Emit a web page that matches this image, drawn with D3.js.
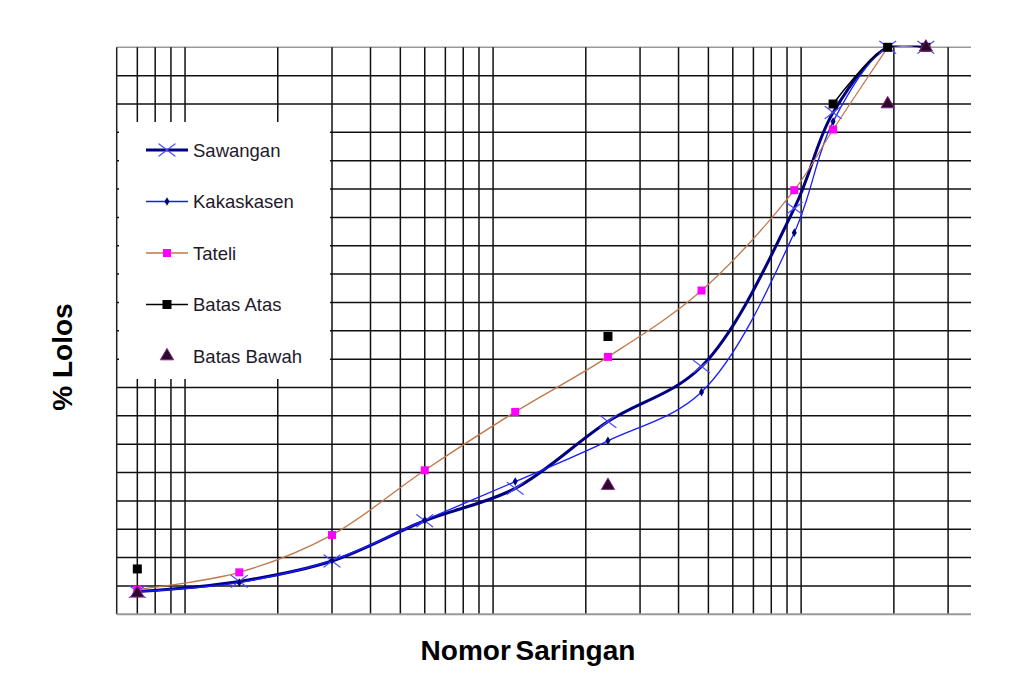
<!DOCTYPE html>
<html>
<head>
<meta charset="utf-8">
<script src="https://cdn.jsdelivr.net/npm/d3@7.9.0/dist/d3.min.js"></script>
<style>
  body { margin: 0; background: #fff; }
  svg { display: block; font-family: "Liberation Sans", Arial, sans-serif; }
</style>
</head>
<body>
<svg id="chart" width="1017" height="686"></svg>
<script>
// sieve sizes (mm)
const sieves = [0.07, 0.15, 0.3, 0.6, 1.18, 2.36, 4.75, 9.5, 12.7, 19.1, 25.4];

// % passing per sample
const sawangan   = [4, 5.8, 9.4, 16.5, 22.2, 34, 43.7, 71.6, 88.5, 100, 100];
const kakaskasen = [4, 5.6, 9.5, 16.6, 23.4, 30.6, 39.2, 67.3, 86.9, 100, 100];
const tateli     = [4.4, 7.4, 14, 25.4, 35.7, 45.4, 57.1, 74.8, 85.5, 100, null];
const batasAtas  = [8, null, null, null, null, 49, null, null, 90, 100, 100];
const batasBawah = [3.7, null, null, null, null, 22.7, null, null, null, 90, 100];

// grid
const xGrid = [0.07, 0.08, 0.09, 0.1, 0.2, 0.3, 0.4, 0.5, 0.6, 0.7, 0.8, 0.9,
               1, 2, 3, 4, 5, 6, 7, 8, 9, 10, 20, 30];
const yGrid = d3.range(5, 101, 5);

const svg = d3.select('#chart');

const x = d3.scaleLog().domain([0.06, 35.6]).range([116.7, 971]);
const y = d3.scaleLinear().domain([0, 100]).range([614.3, 47.3]);

// clip so smoothed curves don't bulge above 100%
svg.append('clipPath').attr('id', 'plotclip')
  .append('rect')
  .attr('x', 0).attr('y', y(100) - 1.6)
  .attr('width', 1017).attr('height', 686);

// horizontal grid lines
svg.append('g')
  .selectAll('line')
  .data(yGrid)
  .join('line')
  .attr('x1', x(0.06)).attr('x2', x(35.6))
  .attr('y1', d => y(d)).attr('y2', d => y(d))
  .attr('stroke', d => d === 100 ? '#999' : '#111')
  .attr('stroke-width', 1.5);

// vertical grid lines
svg.append('g')
  .selectAll('line')
  .data(xGrid)
  .join('line')
  .attr('x1', d => x(d)).attr('x2', d => x(d))
  .attr('y1', y(0)).attr('y2', y(100))
  .attr('stroke', '#111')
  .attr('stroke-width', 1.5);

// axes lines
svg.append('line')
  .attr('x1', x(0.06)).attr('x2', x(0.06))
  .attr('y1', y(0)).attr('y2', y(100))
  .attr('stroke', '#222').attr('stroke-width', 1.5);
svg.append('line')
  .attr('x1', x(0.06)).attr('x2', x(35.6))
  .attr('y1', y(0)).attr('y2', y(0))
  .attr('stroke', '#999').attr('stroke-width', 2);

// legend background hides grid
svg.append('rect')
  .attr('x', 119).attr('y', 122)
  .attr('width', 211).attr('height', 257)
  .attr('fill', '#fff');

const line = d3.line()
  .defined(d => d[1] != null)
  .x(d => x(d[0]))
  .y(d => y(d[1]))
  .curve(d3.curveCatmullRom.alpha(0.5));

function pts(vals) {
  return sieves.map((s, i) => [s, vals[i]]);
}

const curves = svg.append('g').attr('clip-path', 'url(#plotclip)');

// Sawangan
curves.append('path')
  .attr('d', line(pts(sawangan)))
  .attr('fill', 'none').attr('stroke', '#000080').attr('stroke-width', 3);

// Kakaskasen
curves.append('path')
  .attr('d', line(pts(kakaskasen)))
  .attr('fill', 'none').attr('stroke', '#1a1aff').attr('stroke-width', 1.3);

// Tateli
curves.append('path')
  .attr('d', line(pts(tateli).filter(d => d[1] != null)))
  .attr('fill', 'none').attr('stroke', '#c0784a').attr('stroke-width', 1.3);

// Batas Atas (line only between consecutive points)
curves.append('path')
  .attr('d', line(pts(batasAtas)))
  .attr('fill', 'none').attr('stroke', '#000').attr('stroke-width', 1.5);

// markers
const crossSym = d3.symbol().type(d3.symbolX).size(130);
const diamond = d3.symbol().type(d3.symbolDiamond).size(22);
const tri = d3.symbol().type(d3.symbolTriangle).size(75);

svg.append('g')
  .selectAll('path')
  .data(pts(sawangan))
  .join('path')
  .attr('transform', d => `translate(${x(d[0])},${y(d[1])}) scale(1.2,0.9)`)
  .attr('d', crossSym)
  .attr('fill', 'none').attr('stroke', '#4a4aff').attr('stroke-width', 1.2);

svg.append('g')
  .selectAll('path')
  .data(pts(kakaskasen))
  .join('path')
  .attr('transform', d => `translate(${x(d[0])},${y(d[1])})`)
  .attr('d', diamond)
  .attr('fill', '#00007a');

svg.append('g')
  .selectAll('rect')
  .data(pts(tateli).filter(d => d[1] != null))
  .join('rect')
  .attr('x', d => x(d[0]) - 4).attr('y', d => y(d[1]) - 4)
  .attr('width', 8).attr('height', 8)
  .attr('fill', '#ff00ff');

svg.append('g')
  .selectAll('rect')
  .data(pts(batasAtas).filter(d => d[1] != null))
  .join('rect')
  .attr('x', d => x(d[0]) - 4.5).attr('y', d => y(d[1]) - 4.5)
  .attr('width', 9).attr('height', 9)
  .attr('fill', '#000');

svg.append('g')
  .selectAll('path')
  .data(pts(batasBawah).filter(d => d[1] != null))
  .join('path')
  .attr('transform', d => `translate(${x(d[0])},${y(d[1])})`)
  .attr('d', tri)
  .attr('fill', '#2a0a2a').attr('stroke', '#8a1a8a').attr('stroke-width', 1);

// legend
const legendItems = ['Sawangan', 'Kakaskasen', 'Tateli', 'Batas Atas', 'Batas Bawah'];
const legend = svg.append('g');
legendItems.forEach((name, i) => {
  const ly = 150 + i * 51.5;
  const g = legend.append('g').attr('transform', `translate(0,${ly})`);
  if (i === 0) {
    g.append('line').attr('x1', 146).attr('x2', 188).attr('y1', 0).attr('y2', 0)
      .attr('stroke', '#000080').attr('stroke-width', 3);
    g.append('path').attr('transform', 'translate(167,0) scale(1.2,0.9)').attr('d', crossSym)
      .attr('fill', 'none').attr('stroke', '#4a4aff').attr('stroke-width', 1.2);
  } else if (i === 1) {
    g.append('line').attr('x1', 146).attr('x2', 188).attr('y1', 0).attr('y2', 0)
      .attr('stroke', '#1a1aff').attr('stroke-width', 1.3);
    g.append('path').attr('transform', 'translate(167,0)').attr('d', diamond)
      .attr('fill', '#00007a');
  } else if (i === 2) {
    g.append('line').attr('x1', 146).attr('x2', 188).attr('y1', 0).attr('y2', 0)
      .attr('stroke', '#c0784a').attr('stroke-width', 1.3);
    g.append('rect').attr('x', 163).attr('y', -4).attr('width', 8).attr('height', 8)
      .attr('fill', '#ff00ff');
  } else if (i === 3) {
    g.append('line').attr('x1', 146).attr('x2', 188).attr('y1', 0).attr('y2', 0)
      .attr('stroke', '#000').attr('stroke-width', 1.5);
    g.append('rect').attr('x', 162.5).attr('y', -4.5).attr('width', 9).attr('height', 9)
      .attr('fill', '#000');
  } else {
    g.append('path').attr('transform', 'translate(167,0)').attr('d', tri)
      .attr('fill', '#2a0a2a').attr('stroke', '#8a1a8a').attr('stroke-width', 1);
  }
  g.append('text')
    .attr('x', 193).attr('y', 6.5)
    .attr('font-size', 18.5)
    .attr('fill', '#1e1a2a')
    .text(name);
});

// axis titles
svg.append('text')
  .attr('transform', 'translate(72,357) rotate(-90)')
  .attr('text-anchor', 'middle')
  .attr('font-size', 28).attr('font-weight', 'bold')
  .text('% Lolos');

svg.append('text')
  .attr('x', 528).attr('y', 660)
  .attr('text-anchor', 'middle')
  .attr('font-size', 28).attr('font-weight', 'bold')
  .attr('word-spacing', -3)
  .text('Nomor Saringan');
</script>
</body>
</html>
